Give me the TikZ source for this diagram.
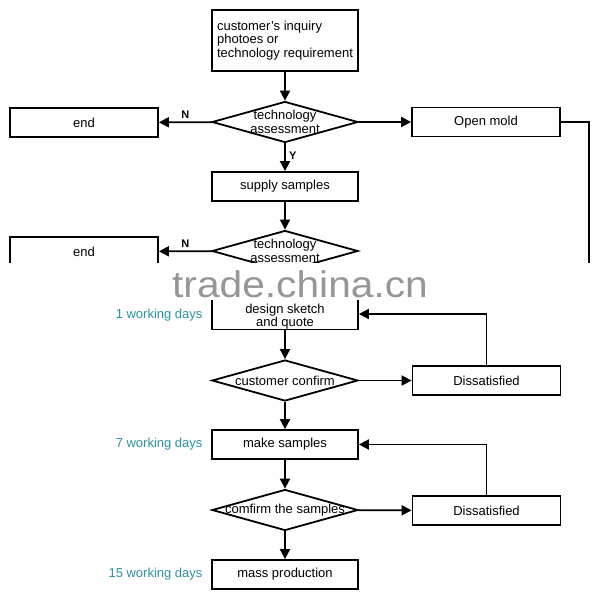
\documentclass[tikz,border=0pt]{standalone}
\usepackage{fontspec}
\setmainfont{Liberation Sans}
\usetikzlibrary{shapes.geometric,arrows.meta}
\definecolor{daysblue}{RGB}{45,145,160}
\definecolor{markgray}{RGB}{150,150,150}
\begin{document}
\begin{tikzpicture}[
		x=1pt,y=-1pt,
		every node/.style={font=\fontsize{13}{13.5}\selectfont},
		box/.style={rectangle,draw,line width=1.8pt,minimum width=146pt,minimum height=29pt,inner sep=1pt},
		sidebox/.style={box,minimum width=148pt},
		decision/.style={diamond,draw,line width=1.8pt,minimum width=146pt,minimum height=41pt,inner sep=0pt},
		days/.style={anchor=east,text=daysblue},
		yn/.style={font=\fontsize{11}{11}\selectfont\bfseries},
		arr/.style={line width=1.8pt,-{Triangle[length=10pt,width=10pt]}},
		link/.style={line width=1.8pt}
		]
		\useasboundingbox (0,0) rectangle (600,600);
		\node[box,minimum height=61pt,align=left] (inquiry) at (285,40.5) {customer's inquiry\\photoes or\\technology requirement};
		\node[decision,label={[align=center]center:technology\\assessment}] (tech1) at (285,122) {};
		\node[sidebox] (endA) at (84,122.5) {end};
		\node[sidebox] (mold) at (486,122) {Open mold};
		\node[box] (supply) at (285,186.5) {supply samples};
		\node[decision,label={[align=center]center:technology\\assessment}] (tech2) at (285,251) {};
		\node[sidebox] (endB) at (84,251.5) {end};
		\node[box,minimum height=31pt] (design) at (285,314) {};
		\node[align=center,inner sep=0pt] (designtext) at (285,316.5) {design sketch\\and quote};
		\node[decision,label={center:customer confirm}] (confirm) at (285,380.5) {};
		\node[sidebox] (dissA) at (486.5,380.5) {Dissatisfied};
		\node[box] (make) at (285,444.5) {make samples};
		\node[decision,label={center:comfirm the samples}] (check) at (285,510) {};
		\node[sidebox] (dissB) at (486.5,510.5) {Dissatisfied};
		\node[box] (mass) at (285,574.5) {mass production};
		\node[days] (daysA) at (206,315) {1 working days};
		\node[days] (daysB) at (206,444.5) {7 working days};
		\node[days] (daysC) at (206,574.5) {15 working days};
		\coordinate (moldend) at (589,285);
		
		\draw[arr] (inquiry) -- (tech1);
		\draw[arr] (tech1) -- node[yn,above] {N} (endA);
		\draw[arr] (tech1) -- (mold);
		\draw[arr] (tech1) -- node[yn,right,pos=0.45] {Y} (supply);
		\draw[link] (mold.east) -| (moldend);
		\draw[arr] (supply) -- (tech2);
		\draw[arr] (tech2) -- node[yn,above] {N} (endB);
		\draw[arr] (tech2) -- (design);
		\draw[arr] (design) -- (confirm);
		\draw[arr] (confirm) -- (dissA);
		\draw[arr] (dissA.north) |- (design.east);
		\draw[arr] (confirm) -- (make);
		\draw[arr] (make) -- (check);
		\draw[arr] (check) -- (dissB);
		\draw[arr] (dissB.north) |- (make.east);
		\draw[arr] (check) -- (mass);
		
		\fill[white] (0,263) rectangle (600,300);
		\node[anchor=base,text=markgray,font=\fontsize{37}{37}\selectfont,inner sep=0pt] (mark) at (300,297) {\scalebox{1.1}[1]{trade.china.cn}};
\end{tikzpicture}
\end{document}
